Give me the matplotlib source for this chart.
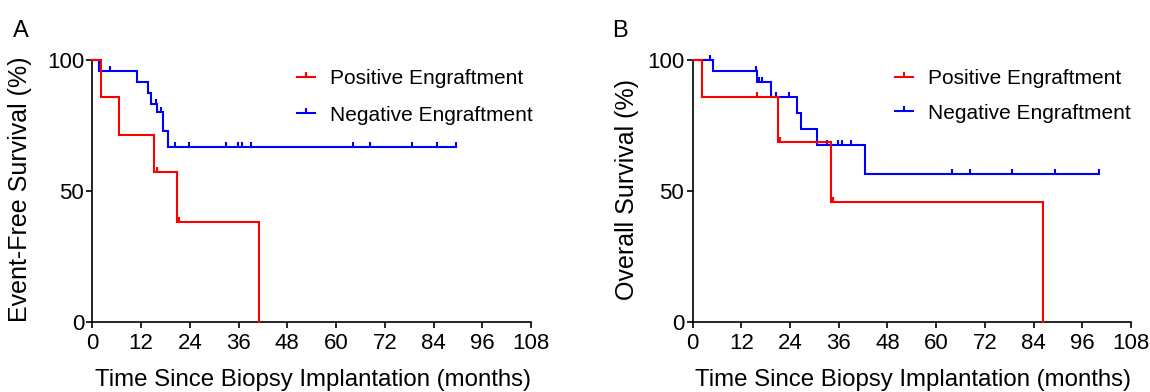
import numpy as np
import matplotlib
matplotlib.use("Agg")
import matplotlib.pyplot as plt
from matplotlib.lines import Line2D

plt.rcParams['font.family'] = ['Liberation Sans', 'DejaVu Sans']

# ---------------- data (months, % survival) ----------------
x_ticks = [0, 12, 24, 36, 48, 60, 72, 84, 96, 108]
y_ticks = [0, 50, 100]

# Panel A: event-free survival
A_pos_times = [0, 2.0, 6.5, 15.1, 20.7, 41.1]
A_pos_surv = [100, 85.7, 71.4, 57.1, 38.1, 0]
A_pos_end = 41.1
A_pos_cens = [15.8, 21.4]

A_neg_times = [0, 1.6, 11.0, 13.7, 14.4, 16.0, 17.3, 18.7]
A_neg_surv = [100, 95.8, 91.7, 87.5, 83.3, 80.0, 73.0, 66.7]
A_neg_end = 89.6
A_neg_cens = [4.3, 15.6, 16.8, 20.3, 23.8, 32.9, 35.8, 36.9, 39.0,
              64.1, 68.3, 78.8, 84.8, 89.6]

# Panel B: overall survival
B_pos_times = [0, 2.4, 21.1, 34.0, 86.2]
B_pos_surv = [100, 85.7, 68.6, 45.7, 0]
B_pos_end = 86.2
B_pos_cens = [16.0, 21.5, 34.5]

B_neg_times = [0, 5.1, 15.8, 19.3, 25.7, 26.6, 30.6, 42.5]
B_neg_surv = [100, 95.8, 91.7, 85.9, 79.7, 73.6, 67.4, 56.6]
B_neg_end = 100.0
B_neg_cens = [4.3, 15.6, 16.3, 17.0, 20.5, 23.8, 33.0, 35.8, 36.9, 39.0,
              64.0, 68.3, 78.6, 89.3, 100.0]

labels = ["Positive Engraftment", "Negative Engraftment"]
colors = ["#ff0000", "#0000ff"]

# ---------------- drawing ----------------
TICK = [(0, 0), (0, 1)]  # upward censor tick marker
LW = 1.5


def km(ax, times, surv, end, cens, color):
    t = list(times) + [end]
    s = list(surv) + [surv[-1]]
    ax.step(t, s, where='post', color=color, lw=LW, clip_on=False,
            solid_joinstyle='miter', zorder=3)
    idx = np.searchsorted(times, cens, side='right') - 1
    cy = np.asarray(surv)[idx]
    ax.plot(cens, cy, ls='none', marker=TICK, ms=7, mew=1.5, color=color,
            clip_on=False, zorder=3)


fig = plt.figure(figsize=(11.5, 3.92), dpi=100)
axA = fig.add_axes([0.0804, 0.1786, 0.3813, 0.6684])
axB = fig.add_axes([0.6022, 0.1786, 0.3813, 0.6684])

panels = [
    (axA, "Event-Free Survival (%)",
     (A_pos_times, A_pos_surv, A_pos_end, A_pos_cens),
     (A_neg_times, A_neg_surv, A_neg_end, A_neg_cens), 0.448, 0.997, -0.165, 0.84),
    (axB, "Overall Survival (%)",
     (B_pos_times, B_pos_surv, B_pos_end, B_pos_cens),
     (B_neg_times, B_neg_surv, B_neg_end, B_neg_cens), 0.443, 0.997, -0.149, 0.75),
]

for ax, ylab, pos, neg, lx, ly, ylx, lsp in panels:
    km(ax, *neg, colors[1])
    km(ax, *pos, colors[0])
    ax.set_xlim(0, 108)
    ax.set_ylim(0, 100)
    ax.set_xticks(x_ticks)
    ax.set_yticks(y_ticks)
    for sp in ['top', 'right']:
        ax.spines[sp].set_visible(False)
    for sp in ['left', 'bottom']:
        ax.spines[sp].set_linewidth(1.2)
    ax.tick_params(direction='out', length=4, width=1.2, labelsize=16,
                   pad=2)
    ax.tick_params(axis='x', pad=4)
    ax.set_xlabel("Time Since Biopsy Implantation (months)", fontsize=17.3)
    ax.xaxis.set_label_coords(0.502, -0.222)
    ax.xaxis.label.set_va('center')
    ax.set_ylabel(ylab, fontsize=18)
    ax.yaxis.set_label_coords(ylx, 0.505)
    ax.yaxis.label.set_va('center')
    handles = [Line2D([], [], color=c, lw=LW, marker=TICK, ms=7, mew=1.5)
               for c in colors]
    ax.legend(handles, labels, loc='upper left', bbox_to_anchor=(lx, ly),
              frameon=False, fontsize=15, handlelength=0.87,
              handletextpad=0.72, labelspacing=lsp, borderaxespad=0)

fig.text(0.011, 0.905, "A", fontsize=17, ha='left', va='baseline')
fig.text(0.532, 0.905, "B", fontsize=17, ha='left', va='baseline')

fig.savefig("out.png", dpi=100)
